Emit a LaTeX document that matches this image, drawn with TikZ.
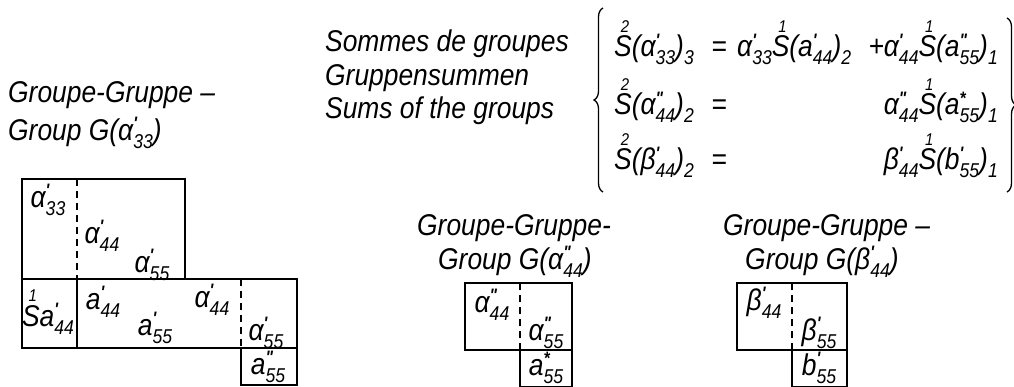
\documentclass[tikz,border=0pt]{standalone}
\usepackage{fontspec}
\setmainfont{Liberation Sans}[FakeStretch=0.88]
\usetikzlibrary{decorations.pathreplacing}
\newcommand\Sb[1]{\raisebox{-0.26em}{\fontsize{20}{20}\selectfont #1}}
\newcommand\Sp[1]{\raisebox{0.36em}{\fontsize{18}{18}\selectfont\bfseries #1}}
\newcommand\sy[3]{#1\rlap{\Sp{#2}}\Sb{#3}}
\newcommand\pr{\textquotesingle}
\newcommand\dpr{\textquotedbl}
\newcommand\Sn[1]{\rlap{\hspace{0.22em}\raisebox{0.82em}{\fontsize{17}{17}\selectfont #1}}S}
\newcommand\hw{\fontsize{30}{34}\selectfont\itshape}
\begin{document}
\begin{tikzpicture}[x=1pt,y=-1pt,
  frame/.style={line width=2.2pt},
  dline/.style={line width=1.1pt, dash pattern=on 7pt off 5pt},
  lab/.style={inner sep=0pt, font=\hw},
  ttl/.style={inner sep=0pt, anchor=west, font=\hw},
  eqn/.style={inner sep=0pt, font=\hw},
  brc/.style={decorate, decoration={brace, amplitude=9pt}, line width=1.3pt}]
\useasboundingbox (0,0) rectangle (1014,387);
% ---------- left group
\node[ttl] (t1a) at (8,95) {Groupe-Gruppe –};
\node[ttl] (t1b) at (8,133) {Group G(\sy{α}{\pr}{33})};
\draw[frame] (22,179) rectangle (185,279);
\draw[frame] (22,279) rectangle (297,348);
\draw[frame] (77,279) -- (77,348);
\draw[frame] (241,348) rectangle (297,385);
\draw[dline] (77,179) -- (77,279);
\draw[dline] (241,279) -- (241,348);
\node[lab] (l1) at (48,200) {\sy{α}{\pr}{33}};
\node[lab] (l2) at (102,236) {\sy{α}{\pr}{44}};
\node[lab] (l3) at (152,265) {\sy{α}{\pr}{55}};
\node[lab] (l4) at (48,312) {\Sn{1}\sy{a}{\pr}{44}};
\node[lab] (l5) at (103,302) {\sy{a}{\pr}{44}};
\node[lab] (l6) at (155,328) {\sy{a}{\pr}{55}};
\node[lab] (l7) at (212,300) {\sy{α}{\pr}{44}};
\node[lab] (l8) at (266,333) {\sy{α}{\pr}{55}};
\node[lab] (l9) at (268,367) {\sy{a}{\dpr}{55}};
% ---------- sums
\node[ttl] (s1) at (325,44) {Sommes de groupes};
\node[ttl] (s2) at (325,78) {Gruppensummen};
\node[ttl] (s3) at (325,111) {Sums of the groups};
\draw[brc] (603,192) -- (603,8);
\draw[brc] (1007,18) -- (1007,192);
\node[eqn, anchor=base west] (e1l) at (614,57) {\Sn{2}(\sy{α}{\pr}{33})\Sb{3}};
\node[eqn, anchor=base] (e1q) at (719,57) {=};
\node[eqn, anchor=base west] (e1a) at (737,57) {\sy{α}{\pr}{33}\Sn{1}(\sy{a}{\pr}{44})\Sb{2}};
\node[eqn, anchor=base east] (e1b) at (998,57) {+\sy{α}{\pr}{44}\Sn{1}(\sy{a}{\dpr}{55})\Sb{1}};
\node[eqn, anchor=base west] (e2l) at (614,115) {\Sn{2}(\sy{α}{\dpr}{44})\Sb{2}};
\node[eqn, anchor=base] (e2q) at (719,115) {=};
\node[eqn, anchor=base east] (e2r) at (998,115) {\sy{α}{\dpr}{44}\Sn{1}(\sy{a}{*}{55})\Sb{1}};
\node[eqn, anchor=base west] (e3l) at (614,170) {\Sn{2}(\sy{β}{\pr}{44})\Sb{2}};
\node[eqn, anchor=base] (e3q) at (719,170) {=};
\node[eqn, anchor=base east] (e3r) at (998,170) {\sy{β}{\pr}{44}\Sn{1}(\sy{b}{\pr}{55})\Sb{1}};
% ---------- middle group
\node[ttl] (t2a) at (417,228) {Groupe-Gruppe-};
\node[ttl] (t2b) at (438,262) {Group G(\sy{α}{\dpr}{44})};
\draw[frame] (465,283) rectangle (572,350);
\draw[frame] (520,350) rectangle (572,387);
\draw[dline] (520,283) -- (520,350);
\node[lab] (m1) at (492,305) {\sy{α}{\dpr}{44}};
\node[lab] (m2) at (546,333) {\sy{α}{\dpr}{55}};
\node[lab] (m3) at (546,368) {\sy{a}{*}{55}};
% ---------- beta group
\node[ttl] (t3a) at (723,228) {Groupe-Gruppe –};
\node[ttl] (t3b) at (745,262) {Group G(\sy{β}{\pr}{44})};
\draw[frame] (737,283) rectangle (847,350);
\draw[frame] (792,350) rectangle (847,387);
\draw[dline] (792,283) -- (792,350);
\node[lab] (b1) at (764,303) {\sy{β}{\pr}{44}};
\node[lab] (b2) at (819,333) {\sy{β}{\pr}{55}};
\node[lab] (b3) at (819,368) {\sy{b}{\pr}{55}};
\end{tikzpicture}
\end{document}
